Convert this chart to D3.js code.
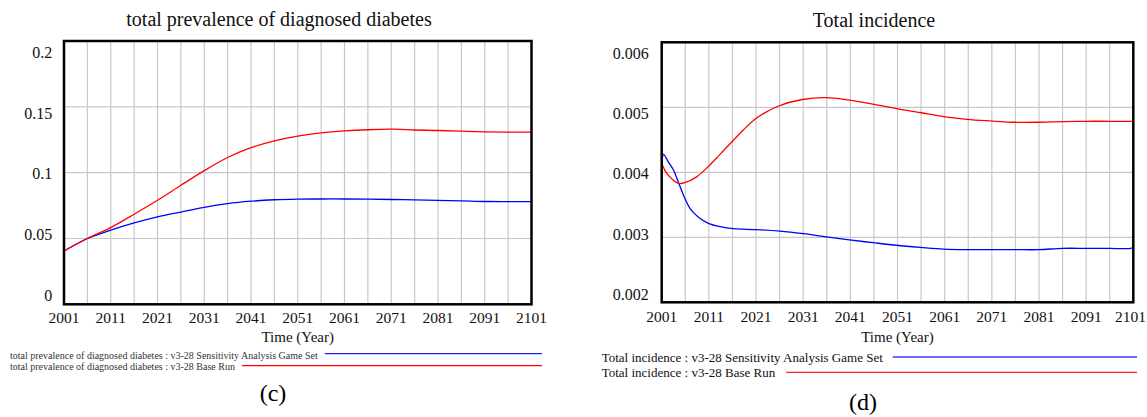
<!DOCTYPE html>
<html><head><meta charset="utf-8">
<script src="https://cdn.jsdelivr.net/npm/d3@7"></script>
<style>
html,body{margin:0;padding:0;background:#fff;}
svg{display:block;font-family:"Liberation Serif","Times New Roman",serif;}
</style></head>
<body><svg id="c" width="1147" height="417"></svg>
<script>
// ---- Data ----
const xTicks = [2001, 2011, 2021, 2031, 2041, 2051, 2061, 2071, 2081, 2091, 2101];
const xGrid = [2006, 2011, 2016, 2021, 2026, 2031, 2036, 2041, 2046, 2051, 2056, 2061, 2066, 2071, 2076, 2081, 2086, 2091, 2096];

const prevYTicks = [0, 0.05, 0.1, 0.15, 0.2];
const prevYLabels = ["0", "0.05", "0.1", "0.15", "0.2"];
const prevYears = [2001, 2006, 2011, 2016, 2021, 2026, 2031, 2036, 2041, 2046, 2051, 2056, 2061, 2066, 2071, 2076, 2081, 2086, 2091, 2096, 2101];
const prevBase = [0.0405, 0.050, 0.0583, 0.0684, 0.079, 0.0904, 0.1015, 0.1115, 0.1190, 0.1242, 0.1278, 0.1302, 0.1317, 0.1326, 0.1330, 0.1324, 0.1320, 0.1315, 0.1310, 0.1308, 0.1308];
const prevSens = [0.0405, 0.050, 0.0563, 0.0618, 0.0664, 0.0701, 0.0737, 0.0765, 0.0783, 0.0794, 0.0799, 0.0800, 0.0800, 0.0799, 0.0796, 0.0793, 0.0790, 0.0786, 0.0781, 0.0780, 0.0780];

const incYTicks = [0.002, 0.003, 0.004, 0.005, 0.006];
const incYLabels = ["0.002", "0.003", "0.004", "0.005", "0.006"];
const incBaseYears = [2001, 2002, 2003.3, 2004.5, 2005.9, 2008.4, 2010.9, 2013.4, 2015.9, 2018.3, 2021.2, 2025.8, 2030.8, 2035.8, 2040.8, 2045.8, 2050.8, 2055.8, 2060.8, 2065.7, 2070.7, 2075.7, 2080.7, 2086, 2091, 2096, 2101];
const incBase = [0.00414, 0.00399, 0.00389, 0.00383, 0.00384, 0.00393, 0.00409, 0.00428, 0.00447, 0.00465, 0.00484, 0.00502, 0.00512, 0.005148, 0.00511, 0.00505, 0.00498, 0.00492, 0.004855, 0.004815, 0.00479, 0.00477, 0.00477, 0.00478, 0.004785, 0.004785, 0.004785];
const incSensYears = [2001, 2001.4, 2002.4, 2003.5, 2004.5, 2005.6, 2007, 2008.8, 2010.9, 2013.4, 2016.2, 2021.1, 2026.1, 2031, 2036.3, 2040.8, 2045.8, 2050.8, 2055.8, 2060.8, 2066, 2071, 2076, 2081, 2086, 2091, 2096, 2100.5, 2101];
const incSens = [0.00411, 0.004277, 0.00416, 0.004035, 0.003855, 0.00365, 0.003446, 0.003308, 0.003215, 0.003163, 0.003132, 0.003118, 0.003094, 0.003055, 0.003003, 0.00296, 0.002918, 0.002878, 0.002846, 0.002818, 0.00281, 0.00281, 0.00281, 0.00281, 0.00283, 0.00283, 0.00283, 0.00283, 0.00285];

const charts = [
  {title: "total prevalence of diagnosed diabetes", titleX: 279, titleY: 26,
   left: 64, right: 531.5, top: 41, bottom: 304.3,
   yDomain: [0, 0.2], yTicks: prevYTicks, yLabels: prevYLabels, labelTop: 52.7, labelBottom: 295, labelX: 52.3,
   series: [{years: prevYears, vals: prevSens, color: "#0000ff"}, {years: prevYears, vals: prevBase, color: "#ff0000"}],
   legend: {x: 10, size: 10, fill: "#333", rows: [
     {text: "total prevalence of diagnosed diabetes : v3-28 Sensitivity Analysis Game Set", y: 358.5, ly: 353.7, color: "#2020e8", w: 1.3, end: 542, gap: 7},
     {text: "total prevalence of diagnosed diabetes : v3-28 Base Run", y: 370, ly: 365.6, color: "#ff0000", w: 1.3, end: 542, gap: 7}]},
   caption: "(c)", capX: 273, capY: 401, xTickY: 323, axisY: 342},
  {title: "Total incidence", titleX: 874, titleY: 27,
   left: 661.7, right: 1133.3, top: 42.3, bottom: 302.3,
   yDomain: [0.002, 0.006], yTicks: incYTicks, yLabels: incYLabels, labelTop: 53.3, labelBottom: 294.3, labelX: 648.7,
   series: [{years: incSensYears, vals: incSens, color: "#0000ff"}, {years: incBaseYears, vals: incBase, color: "#ff0000"}],
   legend: {x: 601.7, size: 13, fill: "#111", rows: [
     {text: "Total incidence : v3-28 Sensitivity Analysis Game Set", y: 362, ly: 357, color: "#6a6aff", w: 1.8, end: 1137, gap: 10},
     {text: "Total incidence : v3-28 Base Run", y: 377, ly: 372.3, color: "#ff2020", w: 1.3, end: 1137, gap: 11}]},
   caption: "(d)", capX: 863, capY: 410, xTickY: 322, axisY: 342}
];

const svg = d3.select("#c");
svg.append("rect").attr("width", 1147).attr("height", 417).attr("fill", "#fff");

charts.forEach(c => {
  const g = svg.append("g");
  const x = d3.scaleLinear().domain([2001, 2101]).range([c.left, c.right]);
  const y = d3.scaleLinear().domain(c.yDomain).range([c.bottom, c.top]);
  const yLab = d3.scaleLinear().domain(c.yDomain).range([c.labelBottom, c.labelTop]);

  // grid
  g.selectAll(".vg").data(xGrid).enter().append("line")
    .attr("x1", d => x(d)).attr("x2", d => x(d)).attr("y1", c.top).attr("y2", c.bottom)
    .attr("stroke", "#c8c8c8").attr("stroke-width", 1.2);
  g.selectAll(".hg").data(c.yTicks.slice(1, -1)).enter().append("line")
    .attr("x1", c.left).attr("x2", c.right).attr("y1", d => y(d)).attr("y2", d => y(d))
    .attr("stroke", "#c8c8c8").attr("stroke-width", 1.2);

  // series
  c.series.forEach(s => {
    const pts = s.years.map((yr, i) => [yr, s.vals[i]]);
    g.append("path").datum(pts)
      .attr("d", d3.line().x(d => x(d[0])).y(d => y(d[1])).curve(d3.curveCatmullRom.alpha(0.5)))
      .attr("fill", "none").attr("stroke", s.color).attr("stroke-width", 1.3);
  });

  // frame
  g.append("rect").attr("x", c.left).attr("y", c.top)
    .attr("width", c.right - c.left).attr("height", c.bottom - c.top)
    .attr("fill", "none").attr("stroke", "#000").attr("stroke-width", 2.5);

  // y labels
  g.selectAll(".yl").data(c.yTicks).enter().append("text")
    .attr("x", c.labelX).attr("y", d => yLab(d)).attr("dy", "0.35em")
    .attr("text-anchor", "end").attr("font-size", 16).attr("fill", "#111")
    .text((d, i) => c.yLabels[i]);

  // x labels
  g.selectAll(".xl").data(xTicks).enter().append("text")
    .attr("x", d => Math.min(x(d), 1130.5)).attr("y", c.xTickY)
    .attr("text-anchor", "middle")
    .attr("font-size", 15.5).attr("fill", "#111")
    .text(d => d);

  g.append("text").attr("x", (c.left + c.right) / 2).attr("y", c.axisY)
    .attr("text-anchor", "middle").attr("font-size", 15).attr("fill", "#111").text("Time (Year)");

  g.append("text").attr("x", c.titleX).attr("y", c.titleY)
    .attr("text-anchor", "middle").attr("font-size", 20).attr("fill", "#111").text(c.title);

  // legend
  c.legend.rows.forEach(r => {
    const t = g.append("text").attr("x", c.legend.x).attr("y", r.y)
      .attr("font-size", c.legend.size).attr("fill", c.legend.fill).text(r.text);
    const w = t.node().getComputedTextLength();
    g.append("line").attr("x1", c.legend.x + w + r.gap).attr("x2", r.end)
      .attr("y1", r.ly).attr("y2", r.ly).attr("stroke", r.color).attr("stroke-width", r.w);
  });

  g.append("text").attr("x", c.capX).attr("y", c.capY)
    .attr("text-anchor", "middle").attr("font-size", 24).attr("fill", "#000").text(c.caption);
});
</script>
</body></html>
